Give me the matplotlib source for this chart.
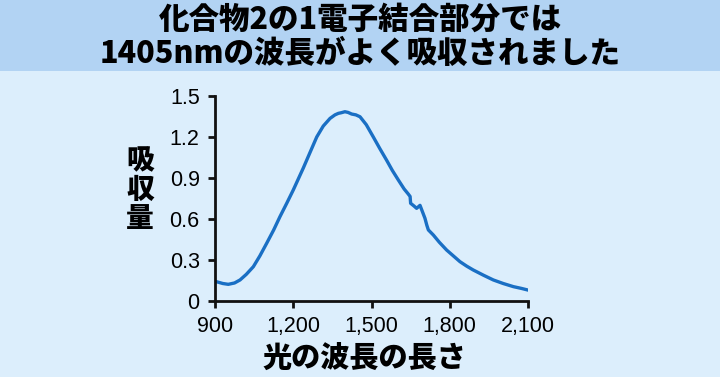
import numpy as np
import matplotlib.pyplot as plt
from matplotlib.patches import Rectangle

plt.rcParams['font.family'] = ['Liberation Sans', 'DejaVu Sans']

# absorption spectrum (wavelength nm, absorbance)
wavelength = [900, 906, 930, 951, 975, 996, 1020, 1047, 1072, 1098, 1125, 1149,
              1175, 1200, 1239, 1265, 1290, 1315, 1341, 1360, 1373, 1385, 1398,
              1410, 1424, 1440, 1456, 1480, 1507, 1532, 1558, 1580, 1603, 1625,
              1640, 1648, 1650, 1663, 1673, 1686, 1695, 1705, 1712, 1718, 1737,
              1760, 1788, 1815, 1839, 1865, 1890, 1930, 1967, 2005, 2044, 2075,
              2100]
absorbance = [0.142, 0.141, 0.128, 0.122, 0.132, 0.154, 0.195, 0.251, 0.33, 0.422,
              0.52, 0.617, 0.715, 0.812, 0.975, 1.09, 1.20, 1.28, 1.336, 1.362,
              1.373, 1.378, 1.385, 1.38, 1.368, 1.362, 1.348, 1.29, 1.20, 1.115,
              1.03, 0.955, 0.885, 0.82, 0.785, 0.765, 0.715, 0.695, 0.678, 0.70,
              0.655, 0.605, 0.555, 0.52, 0.483, 0.43, 0.373, 0.328, 0.288, 0.255,
              0.227, 0.188, 0.154, 0.128, 0.105, 0.092, 0.08]

xticks = [900, 1200, 1500, 1800, 2100]
yticks = [0, 0.3, 0.6, 0.9, 1.2, 1.5]
title_lines = ['化合物2の1電子結合部分では', '1405nmの波長がよく吸収されました']
xlabel = '光の波長の長さ'
ylabel = '吸\n収\n量'

jp = ['Noto Sans CJK JP', 'DejaVu Sans']

fig = plt.figure(figsize=(7.2, 3.77), dpi=100, facecolor='#dceefc')
fig.patches.append(Rectangle((0, 1 - 71 / 377), 1, 71 / 377, transform=fig.transFigure,
                             facecolor='#b2d3f3', edgecolor='none', zorder=0))
fig.text(0.5, 1 - 19 / 377, title_lines[0], ha='center', va='center',
         fontsize=22, fontweight='heavy', family=jp)
fig.text(0.5, 1 - 53 / 377, title_lines[1], ha='center', va='center',
         fontsize=22, fontweight='heavy', family=jp)

ax = fig.add_axes([215 / 720, 1 - 301 / 377, 313 / 720, 205 / 377])
ax.set_facecolor('none')
ax.plot(wavelength, absorbance, color='#1a6fc4', lw=2.4, solid_joinstyle='round')

ax.set_xlim(900, 2100)
ax.set_ylim(0, 1.5)
ax.set_xticks(xticks)
ax.set_xticklabels([f'{t:,}' for t in xticks])
ax.set_yticks(yticks)
ax.set_yticklabels(['0' if t == 0 else f'{t:.1f}' for t in yticks])
ax.tick_params(labelsize=15.5, length=5, width=2, color='#111111', pad=6)
for s in ['top', 'right']:
    ax.spines[s].set_visible(False)
for s in ['left', 'bottom']:
    ax.spines[s].set_linewidth(2)
    ax.spines[s].set_color('#111111')

fig.text(364 / 720, 1 - 358 / 377, xlabel, ha='center', va='center',
         fontsize=21, fontweight='heavy', family=jp)
fig.text(140 / 720, 1 - 190 / 377, ylabel, ha='center', va='center',
         fontsize=20, fontweight='heavy', family=jp, linespacing=1.0)

fig.savefig('out.png', dpi=100, facecolor=fig.get_facecolor())
